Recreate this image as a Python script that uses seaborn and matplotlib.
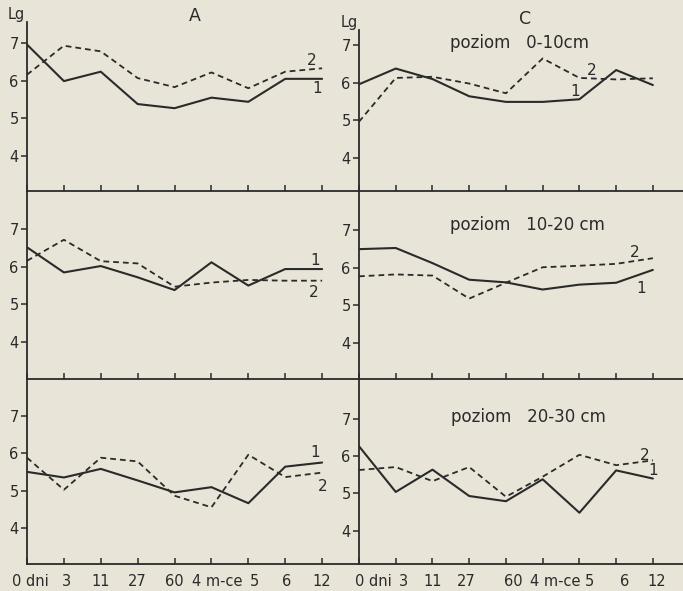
import numpy as np
import pandas as pd
import matplotlib
matplotlib.use("Agg")
import matplotlib.pyplot as plt
import seaborn as sns
from matplotlib.transforms import ScaledTranslation

# ---------------- data ----------------
x_labels = ["0 dni", "3", "11", "27", "60", "4 m-ce", "5", "6", "12"]

a_0_10_s1 = [6.96, 5.99, 6.24, 5.38, 5.27, 5.55, 5.44, 6.05, 6.05]
a_0_10_s2 = [6.16, 6.93, 6.78, 6.07, 5.83, 6.22, 5.80, 6.24, 6.33]
c_0_10_s1 = [5.96, 6.38, 6.10, 5.64, 5.49, 5.49, 5.56, 6.34, 5.94]
c_0_10_s2 = [4.96, 6.13, 6.16, 5.98, 5.72, 6.65, 6.13, 6.09, 6.12]

a_10_20_s1 = [6.52, 5.85, 6.02, 5.72, 5.38, 6.12, 5.50, 5.94, 5.94]
a_10_20_s2 = [6.16, 6.72, 6.15, 6.09, 5.47, 5.58, 5.65, 5.63, 5.63]
c_10_20_s1 = [6.49, 6.52, 6.12, 5.68, 5.61, 5.42, 5.55, 5.60, 5.94]
c_10_20_s2 = [5.77, 5.82, 5.79, 5.18, 5.60, 6.01, 6.05, 6.10, 6.25]

a_20_30_s1 = [5.50, 5.35, 5.58, 5.27, 4.95, 5.09, 4.66, 5.64, 5.75]
a_20_30_s2 = [5.88, 5.02, 5.88, 5.78, 4.86, 4.55, 5.96, 5.36, 5.48]
c_20_30_s1 = [6.27, 5.04, 5.64, 4.93, 4.79, 5.38, 4.48, 5.62, 5.40]
c_20_30_s2 = [5.63, 5.71, 5.33, 5.71, 4.91, 5.45, 6.04, 5.76, 5.89]

y_ticks = [4, 5, 6, 7]
level_titles = ["poziom   0-10cm", "poziom   10-20 cm", "poziom   20-30 cm"]

# ---------------- style ----------------
BG = "#e8e5d8"
INK = "#2a2a2a"
sns.set_theme(style="ticks")
plt.rcParams["font.family"] = ["DejaVu Sans"]
plt.rcParams.update({
    "axes.edgecolor": INK, "xtick.color": INK, "ytick.color": INK,
    "text.color": INK, "axes.labelcolor": INK,
})

W, H = 683, 591
fig = plt.figure(figsize=(W / 100, H / 100), dpi=100, facecolor=BG)


def add_ax(x0, x1, ytop, ybot):
    return fig.add_axes([x0 / W, 1 - ybot / H, (x1 - x0) / W, (ybot - ytop) / H])


# rows: (top px left, top px right, bottom px, left ylim, right ylim)
rows = [
    (22, 30, 191, (3.07, 7.56), (3.11, 7.41)),
    (191, 191, 379, (3.01, 8.02), (3.05, 8.03)),
    (379, 379, 564, (3.03, 7.99), (3.10, 8.08)),
]
series = [
    (a_0_10_s1, a_0_10_s2, c_0_10_s1, c_0_10_s2),
    (a_10_20_s1, a_10_20_s2, c_10_20_s1, c_10_20_s2),
    (a_20_30_s1, a_20_30_s2, c_20_30_s1, c_20_30_s2),
]
# number labels ("1","2") positions in data coords
num_pos = [
    {"L": [(7.86, 5.78, "1"), (7.72, 6.55, "2")], "R": [(5.88, 5.76, "1"), (6.33, 6.34, "2")]},
    {"L": [(7.80, 6.16, "1"), (7.76, 5.31, "2")], "R": [(7.69, 5.45, "1"), (7.51, 6.41, "2")]},
    {"L": [(7.80, 6.02, "1"), (8.01, 5.12, "2")], "R": [(8.01, 5.63, "1"), (7.78, 6.02, "2")]},
]

x_idx = np.arange(len(x_labels))

for r, (ytopL, ytopR, ybot, ylimL, ylimR) in enumerate(rows):
    s1L, s2L, s1R, s2R = series[r]
    panels = {
        "L": (27, 359, 9.0, ytopL, ylimL, s1L, s2L),
        "R": (359, 683, 8.82, ytopR, ylimR, s1R, s2R),
    }
    for side, (x0, x1, xmax, ytop, ylim, s1, s2) in panels.items():
        ax = add_ax(x0, x1, ytop, ybot)
        ax.set_facecolor("none")
        df = pd.DataFrame({"x": np.concatenate([x_idx, x_idx]),
                           "y": np.concatenate([s1, s2]),
                           "s": ["1"] * len(x_idx) + ["2"] * len(x_idx)})
        sns.lineplot(data=df[df.s == "1"], x="x", y="y", ax=ax, color=INK,
                     lw=1.5, legend=False)
        sns.lineplot(data=df[df.s == "2"], x="x", y="y", ax=ax, color=INK,
                     lw=1.3, linestyle=(0, (3.2, 2.2)), legend=False)
        ax.set_xlim(0, xmax)
        ax.set_ylim(*ylim)
        ax.set_xlabel("")
        ax.set_ylabel("")
        for sp in ["top", "right"]:
            ax.spines[sp].set_visible(False)
        ax.spines["left"].set_linewidth(1.3)
        ax.spines["bottom"].set_linewidth(1.3)
        ax.set_yticks(y_ticks)
        ax.set_yticklabels([str(t) for t in y_ticks], fontsize=10.5)
        ax.tick_params(axis="y", direction="out", length=4, width=1.1, pad=2)
        ax.set_xticks(x_idx)
        ax.tick_params(axis="x", direction="in", length=4, width=1.1, pad=7)
        if r == 2:
            ax.set_xticklabels(x_labels, fontsize=10.5)
            offs = {"L": [3, 3, 0, 0, 0, 6, 6, 1, 0],
                    "R": [14, 8, 0, -3, 7, 13, 10, 8, 4]}[side]
            for lab, dx in zip(ax.get_xticklabels(), offs):
                lab.set_transform(lab.get_transform() +
                                  ScaledTranslation(dx / 100, 0, fig.dpi_scale_trans))
        else:
            ax.set_xticklabels([])
        for (tx, ty, t) in num_pos[r][side]:
            ax.text(tx, ty, t, fontsize=11, ha="center", va="center")

# titles and level labels as figure text
fig.text(195 / W, 1 - 16 / H, "A", fontsize=12.5, ha="center", va="center")
fig.text(525 / W, 1 - 19 / H, "C", fontsize=12.5, ha="center", va="center")
fig.text(16 / W, 1 - 15 / H, "Lg", fontsize=10.5, ha="center", va="center")
fig.text(349 / W, 1 - 22 / H, "Lg", fontsize=10.5, ha="center", va="center")
fig.text(520 / W, 1 - 43 / H, level_titles[0], fontsize=12, ha="center", va="center")
fig.text(527 / W, 1 - 225 / H, level_titles[1], fontsize=12, ha="center", va="center")
fig.text(528 / W, 1 - 417 / H, level_titles[2], fontsize=12, ha="center", va="center")

fig.savefig("out.png", dpi=100, facecolor=BG)
